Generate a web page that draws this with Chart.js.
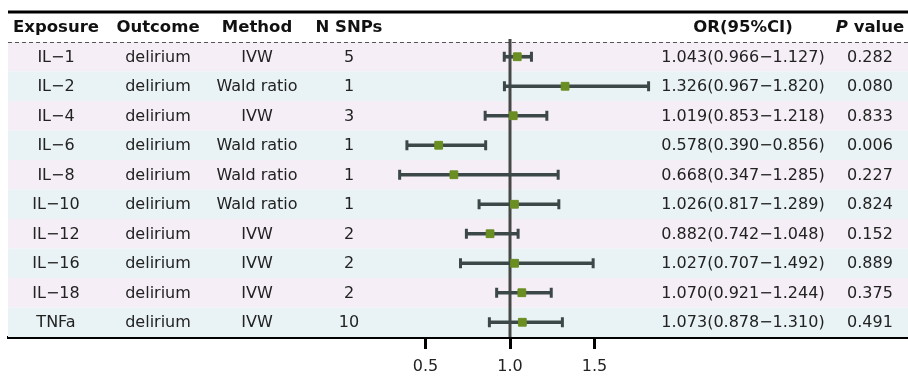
<!DOCTYPE html>
<html>
<head>
<meta charset="utf-8">
<script src="https://cdn.jsdelivr.net/npm/chart.js@4"></script>
<style>
  body { margin: 0; background: #fff; }
  #wrap { width: 908px; height: 376px; }
</style>
</head>
<body>
<div id="wrap"><canvas id="forest"></canvas></div>
<script>
// table data
const exposures = ['IL\u22121', 'IL\u22122', 'IL\u22124', 'IL\u22126', 'IL\u22128', 'IL\u221210', 'IL\u221212', 'IL\u221216', 'IL\u221218', 'TNFa'];
const outcomes = ['delirium', 'delirium', 'delirium', 'delirium', 'delirium', 'delirium', 'delirium', 'delirium', 'delirium', 'delirium'];
const methods = ['IVW', 'Wald ratio', 'IVW', 'Wald ratio', 'Wald ratio', 'Wald ratio', 'IVW', 'IVW', 'IVW', 'IVW'];
const nSnps = [5, 1, 3, 1, 1, 1, 2, 2, 2, 10];
const orValues = [1.043, 1.326, 1.019, 0.578, 0.668, 1.026, 0.882, 1.027, 1.070, 1.073];
const ciLower = [0.966, 0.967, 0.853, 0.390, 0.347, 0.817, 0.742, 0.707, 0.921, 0.878];
const ciUpper = [1.127, 1.820, 1.218, 0.856, 1.285, 1.289, 1.048, 1.492, 1.244, 1.310];
const pValues = ['0.282', '0.080', '0.833', '0.006', '0.227', '0.824', '0.152', '0.889', '0.375', '0.491'];
const xTicks = [0.5, 1.0, 1.5];

const FONT = '"DejaVu Sans", Verdana, sans-serif';
const HEAD_FONT = 'bold 16.5px ' + FONT;
const rowColors = ['#f5eef6', '#e9f3f5'];
const barColor = '#3c4848';

const orText = orValues.map((v, i) =>
  v.toFixed(3) + '(' + ciLower[i].toFixed(3) + '\u2212' + ciUpper[i].toFixed(3) + ')');

// column centers + header text
const columns = [
  { x: 56, head: 'Exposure', cells: exposures },
  { x: 158, head: 'Outcome', cells: outcomes },
  { x: 257, head: 'Method', cells: methods },
  { x: 349, head: 'N SNPs', cells: nSnps.map(String) },
  { x: 743, head: 'OR(95%CI)', cells: orText },
  { x: 870, head: 'P value', cells: pValues }
];

const tablePlugin = {
  id: 'tablePlugin',
  beforeDatasetsDraw(chart) {
    const { ctx, chartArea, scales } = chart;
    const y = scales.y, x = scales.x;
    const band = (y.getPixelForValue(1) - y.getPixelForValue(0));
    ctx.save();
    exposures.forEach((e, i) => {
      const cy = y.getPixelForValue(i);
      ctx.fillStyle = rowColors[i % 2];
      ctx.fillRect(chartArea.left, cy - band / 2, chart.width - chartArea.left, band);
    });
    // dashed line under header
    ctx.strokeStyle = '#555';
    ctx.lineWidth = 1;
    ctx.setLineDash([4, 3]);
    ctx.beginPath();
    ctx.moveTo(chartArea.left, chartArea.top + 0.5);
    ctx.lineTo(chart.width, chartArea.top + 0.5);
    ctx.stroke();
    ctx.setLineDash([]);
    // top rule
    ctx.strokeStyle = '#000';
    ctx.lineWidth = 3;
    ctx.beginPath();
    ctx.moveTo(chartArea.left, 12);
    ctx.lineTo(chart.width, 12);
    ctx.stroke();
    // reference line at OR = 1
    const x1 = x.getPixelForValue(1);
    ctx.strokeStyle = '#474747';
    ctx.lineWidth = 3;
    ctx.beginPath();
    ctx.moveTo(x1, chartArea.top - 3);
    ctx.lineTo(x1, chartArea.bottom);
    ctx.stroke();
    ctx.restore();
  },
  afterDraw(chart) {
    const { ctx, scales } = chart;
    const y = scales.y;
    ctx.save();
    ctx.textAlign = 'center';
    ctx.textBaseline = 'middle';
    columns.forEach(col => {
      ctx.fillStyle = '#111';
      if (col.head === 'P value') {
        ctx.font = 'italic ' + HEAD_FONT;
        const w1 = ctx.measureText('P').width;
        ctx.font = HEAD_FONT;
        const w2 = ctx.measureText(' value').width;
        const start = col.x - (w1 + w2) / 2;
        ctx.textAlign = 'left';
        ctx.font = 'italic ' + HEAD_FONT;
        ctx.fillText('P', start, 28);
        ctx.font = HEAD_FONT;
        ctx.fillText(' value', start + w1, 28);
        ctx.textAlign = 'center';
      } else {
        ctx.font = HEAD_FONT;
        ctx.fillText(col.head, col.x, 28);
      }
      ctx.font = '16px ' + FONT;
      ctx.fillStyle = '#222';
      col.cells.forEach((t, i) => {
        ctx.fillText(t, col.x, y.getPixelForValue(i) + 1);
      });
    });
    ctx.restore();
  }
};

new Chart(document.getElementById('forest'), {
  type: 'bar',
  data: {
    labels: exposures,
    datasets: [
      {
        type: 'bar',
        indexAxis: 'y',
        data: ciLower.map((lo, i) => [lo, ciUpper[i]]),
        backgroundColor: barColor,
        barThickness: 3,
        order: 3
      },
      {
        type: 'scatter',
        data: ciLower.map((v, i) => ({ x: v, y: exposures[i] })).concat(
              ciUpper.map((v, i) => ({ x: v, y: exposures[i] }))),
        pointStyle: 'line',
        rotation: 90,
        radius: 5,
        borderWidth: 3,
        borderColor: barColor,
        order: 2
      },
      {
        type: 'scatter',
        data: orValues.map((v, i) => ({ x: v, y: exposures[i] })),
        pointStyle: 'rect',
        radius: 5.5,
        backgroundColor: '#6a8e22',
        borderColor: '#6a8e22',
        borderWidth: 1,
        order: 1
      }
    ]
  },
  options: {
    responsive: true,
    maintainAspectRatio: false,
    animation: false,
    layout: { autoPadding: false, padding: { left: 8, right: 0, top: 42, bottom: 0 } },
    plugins: { legend: { display: false }, tooltip: { enabled: false } },
    scales: {
      x: {
        type: 'linear',
        offset: false,
        min: 1 - 502 / 169,
        max: 1 + 398 / 169,
        afterBuildTicks: axis => { axis.ticks = xTicks.map(v => ({ value: v })); },
        afterFit: axis => { axis.height = 39; },
        ticks: {
          callback: v => v.toFixed(1),
          color: '#222',
          font: { family: FONT, size: 16 },
          padding: 8,
          maxRotation: 0
        },
        grid: { offset: false, drawOnChartArea: false, tickLength: 12, tickWidth: 3, tickColor: '#000' },
        border: { display: true, color: '#000', width: 3 }
      },
      y: {
        type: 'category',
        labels: exposures,
        offset: true,
        display: false
      }
    }
  },
  plugins: [tablePlugin]
});
</script>
</body>
</html>
